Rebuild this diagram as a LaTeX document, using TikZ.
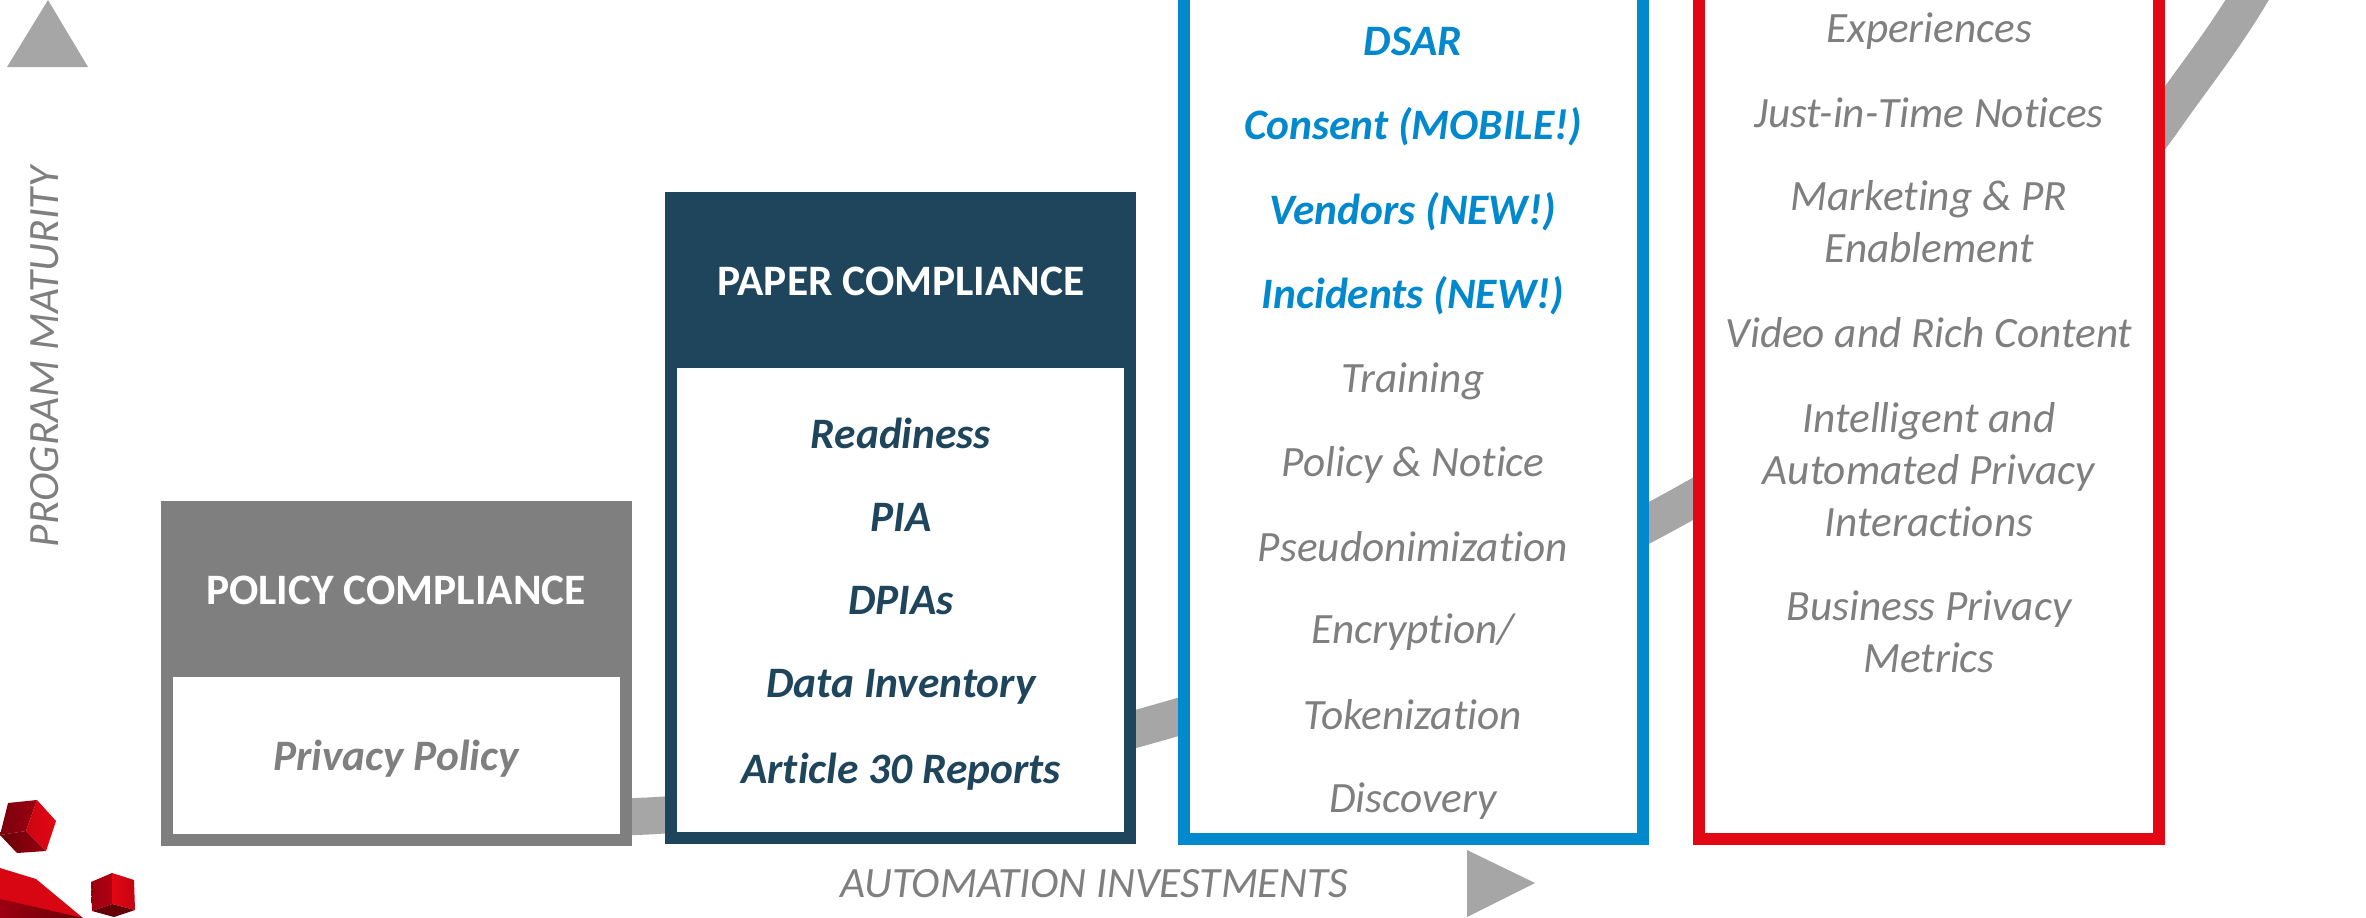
\documentclass[tikz,border=0pt]{standalone}
\usepackage{fontspec}
\setmainfont{Carlito}[Ligatures=NoCommon]
\definecolor{bandgray}{HTML}{A6A6A6}
\definecolor{textgray}{HTML}{7F7F7F}
\definecolor{navy}{HTML}{1F455D}
\definecolor{skyblue}{HTML}{0288CC}
\definecolor{brightred}{HTML}{E30613}
\definecolor{darkred}{HTML}{9B0010}
\definecolor{deepred}{HTML}{650009}
\tikzset{
  stagebox/.style={line width=1.2mm, fill=white},
  headbox/.style={text=white, font=\fontsize{12.35}{14}\selectfont\bfseries},
  itemtext/.style={align=center, font=\fontsize{12.3}{14.8}\selectfont\itshape, text=textgray},
  boldtext/.style={font=\fontsize{12.35}{14.8}\selectfont\bfseries\itshape},
  axistext/.style={font=\fontsize{12.3}{14}\selectfont\itshape, text=textgray}
}
\begin{document}
\begin{tikzpicture}[x=0.01cm, y=-0.01cm]
  \clip (0,0) rectangle (2366,918);
  % band behind the boxes
  \coordinate (B0) at (600,818); \coordinate (B1) at (648,816); \coordinate (B2) at (1157,723);
  \coordinate (B3) at (1671,511); \coordinate (B4) at (2165,118); \coordinate (B5) at (2275,-50);
  \draw[bandgray, line width=3.7mm] (B0) -- (B1) .. controls (818,806) and (987,771) .. (B2)
    .. controls (1327,675) and (1501,604) .. (B3)
    .. controls (1841,418) and (2065,262) .. (B4)
    .. controls (2200,68) and (2240,20) .. (B5);
  % boxes
  \draw[stagebox, draw=textgray] (167,590) rectangle (626,840);
  \fill[textgray] (161,501) rectangle (632,677);
  \draw[stagebox, draw=navy] (671,280) rectangle (1130,838);
  \fill[navy] (665,192) rectangle (1136,368);
  \draw[stagebox, draw=skyblue] (1184,-30) rectangle (1643,839);
  \draw[stagebox, draw=brightred] (1699,-30) rectangle (2159,839);
  % headers
  \node[headbox] (policyhead) at (396,590) {POLICY COMPLIANCE};
  \node[headbox] (paperhead) at (901,281) {PAPER COMPLIANCE};
  \node[boldtext, text=textgray] (privacy) at (396,759) {Privacy Policy};
  % lists
  \foreach \name/\ypos/\label in {readiness/433/Readiness, pia/517/PIA, dpia/601/DPIAs,
      inventory/687/Data Inventory, article/772/Article 30 Reports}
    \node[boldtext, text=navy] (\name) at (901,\ypos) {\label};
  \foreach \name/\ypos/\label in {dsar/41/DSAR, consent/127/Consent (MOBILE!),
      vendors/212/Vendors (NEW!), incidents/296/Incidents (NEW!)}
    \node[boldtext, text=skyblue] (\name) at (1413,\ypos) {\label};
  \foreach \name/\ypos/\label in {training/381/Training, notice/465/Policy \& Notice,
      pseudo/547/Pseudonimization, encrypt/632/{Encryption/}, token/715/Tokenization,
      discovery/801/Discovery}
    \node[itemtext] (\name) at (1413,\ypos) {\label};
  \node[itemtext] (experiences) at (1929,31) {Experiences};
  \node[itemtext] (justintime) at (1929,113) {Just-in-Time Notices};
  \node[itemtext] (marketing) at (1929,222) {Marketing \& PR\\Enablement};
  \node[itemtext] (video) at (1929,333) {Video and Rich Content};
  \node[itemtext] (intelligent) at (1929,470) {Intelligent and\\Automated Privacy\\Interactions};
  \node[itemtext] (business) at (1929,632) {Business Privacy\\Metrics};
  % axes
  \node[axistext, rotate=90] (maturity) at (45,357) {PROGRAM MATURITY};
  \node[axistext] (automation) at (1094,884) {AUTOMATION INVESTMENTS};
  \fill[bandgray] (7,67) -- (48,0) -- (88,67) -- cycle;
  \fill[bandgray] (1467,850) -- (1535,883) -- (1467,917) -- cycle;
  % logo pieces
  \shade[left color=darkred!80!black, right color=darkred] (8,803) -- (37,800) -- (26,831) -- (0,835) -- cycle;
  \shade[left color=brightred!70!darkred, right color=brightred] (37,800) -- (56,821) -- (46,851) -- (26,831) -- cycle;
  \shade[left color=deepred, right color=darkred] (0,835) -- (26,831) -- (46,851) -- (17,853) -- cycle;
  \shade[left color=darkred, right color=darkred!70!brightred] (91,882) -- (112,873) -- (112,904) -- (92,911) -- cycle;
  \shade[left color=brightred, right color=brightred!60!darkred] (112,873) -- (134,880) -- (135,910) -- (112,904) -- cycle;
  \fill[deepred] (92,911) -- (112,904) -- (135,910) -- (114,917) -- cycle;
  \fill[brightred!85!darkred] (0,868) -- (36,879) -- (83,918) -- (0,918) -- cycle;
  \shade[left color=darkred, right color=deepred] (0,899) -- (83,918) -- (0,918) -- cycle;
\end{tikzpicture}
\end{document}
